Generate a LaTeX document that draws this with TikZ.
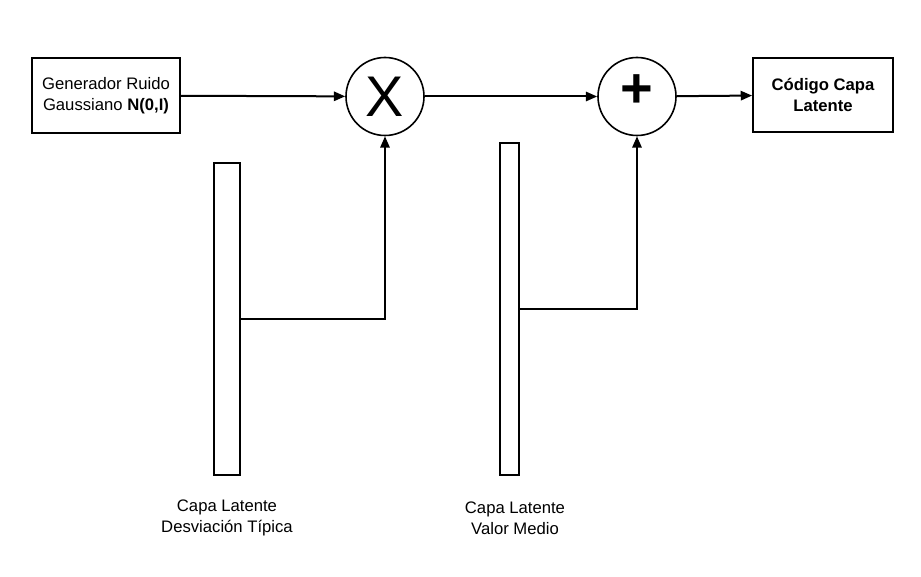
\documentclass[tikz,border=0pt]{standalone}
\usepackage{fontspec}
\setmainfont{Liberation Sans}
\usepackage{tikz}
\usetikzlibrary{arrows.meta}

\begin{document}
\begin{tikzpicture}[x=0.75pt, y=-0.75pt, >={Triangle[length=8.5pt,width=7pt]},
    every node/.style={font=\fontsize{12.5}{16}\selectfont},
    blockbox/.style={draw, line width=1.4pt, align=center, inner sep=0pt},
    layerbar/.style={draw, line width=1.4pt, inner sep=0pt},
    opcircle/.style={draw, circle, line width=1.2pt, inner sep=0pt, minimum size=58.5pt},
    conn/.style={->, line width=1.5pt}]
                \useasboundingbox (0,0) rectangle (921,577);
                % Bloques
                \node[blockbox, minimum width=111pt, minimum height=56.25pt] (gen) at (106,95.5) {Generador Ruido\\Gaussiano \textbf{N(0,I)}};
                \node[blockbox, minimum width=105pt, minimum height=55.5pt, font=\fontsize{12.5}{16}\selectfont\bfseries] (code) at (823,95) {Código Capa\\Latente};
                % Operaciones
                \node[opcircle, font=\fontsize{43}{43}\selectfont] (mult) at (385,96.5) {X};
                \node[opcircle, font=\fontsize{42}{42}\selectfont\bfseries, text depth=8pt] (sum) at (637,96.5) {+};
                % Capas latentes
                \node[layerbar, minimum width=19.5pt, minimum height=234pt] (sigma) at (227,319) {};
                \node[layerbar, minimum width=14.25pt, minimum height=249pt] (mu) at (509.5,309) {};
                \node[align=center] (sigmalabel) at (227,518) {Capa Latente\\Desviación Típica};
                \node[align=center] (mulabel) at (515,518) {Capa Latente\\Valor Medio};
                % Conexiones
                \draw[conn] (gen) -- (mult);
                \draw[conn] (mult) -- (sum);
                \draw[conn] (sum) -- (code);
                \draw[conn] (sigma.east) -| (mult.south);
                \draw[conn] (mu.east) -| (sum.south);
            \end{tikzpicture}
\end{document}
